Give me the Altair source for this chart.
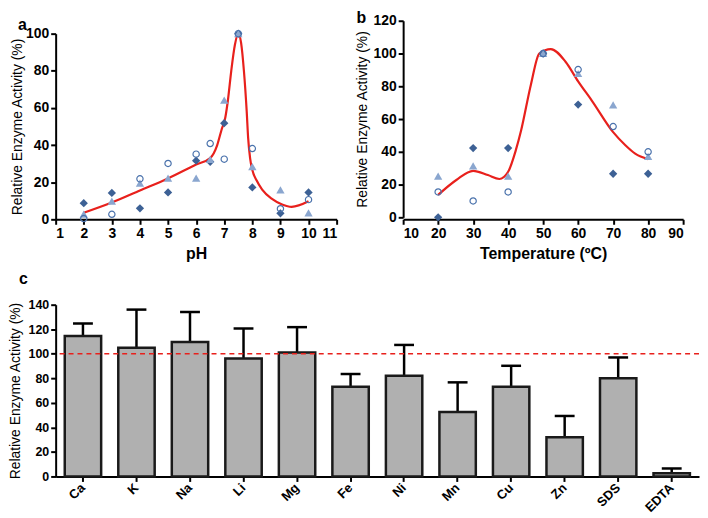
import altair as alt
import pandas as pd

FONT = "Liberation Sans"

# ---------------- Panel a : pH ----------------
ph = [2, 3, 4, 5, 6, 6.5, 7, 7.5, 8, 9, 10]
a_diamond = [8.7, 14.2, 5.9, 14.5, 31.6, 31.0, 51.8, 100, 17.2, 3.2, 14.5]
a_triangle = [2.8, 9.8, 19.5, 22.2, 22.2, 32.3, 64.2, 100, 28.4, 15.9, 3.5]
a_circle = [0.4, 2.7, 21.8, 30.1, 35.1, 40.8, 32.4, 100, 38.1, 5.7, 10.6]
a_fit_x = [2, 3, 4, 5, 6, 6.5, 6.75, 6.9, 7.04, 7.13, 7.25, 7.38, 7.5, 7.6, 7.7, 7.8, 7.85, 7.92, 8.0, 8.15, 8.35, 8.7, 9.06, 9.4, 10]
a_fit_y = [3.5, 9, 15.5, 22, 29.5, 33, 40, 48, 55, 64, 80, 94, 100, 95, 80, 58, 44, 33, 26.5, 21, 16, 11, 8, 6.7, 9.7]

# ---------------- Panel b : temperature ----------------
temp = [20, 30, 40, 50, 60, 70, 80]
b_diamond = [0, 42.3, 42.3, 100, 68.8, 26.6, 26.6]
b_triangle = [25.2, 31.4, 25.2, 100, 87.8, 68.7, 37.2]
b_circle = [15.5, 10, 15.5, 100, 90.2, 55.4, 40]
b_fit_x = [20, 25.2, 30, 34.2, 37.5, 40, 42.2, 43.7, 46.5, 48.9, 52.2, 56.4, 60, 64, 70, 73.5, 76.3, 80]
b_fit_y = [13.7, 22.8, 28.4, 25.8, 23.4, 27.8, 41, 53, 81, 100, 102.7, 95, 83, 71, 52, 44, 38.9, 35.5]

# ---------------- Panel c : ions ----------------
ions = ["Ca", "K", "Na", "Li", "Mg", "Fe", "Ni", "Mn", "Cu", "Zn", "SDS", "EDTA"]
means = [114.4, 105, 109.6, 96.1, 101, 73.2, 82.1, 52.5, 73.2, 32, 80, 2.7]
sds = [10.3, 31, 24.4, 24.5, 20.7, 10.3, 25.1, 24.2, 17, 17.3, 17, 3.8]

DIAMOND = "#3d6195"
TRIANGLE = "#8aa6cf"
CIRCLE = "#4a72ac"
RED = "#e8201c"

axis_base = dict(
    domainColor="black", domainWidth=2, tickColor="black", tickWidth=2, tickSize=5,
    labelFont=FONT, labelFontWeight="bold", labelFontSize=14, labelColor="black",
    titleFont=FONT, titleColor="black", grid=False, labelPadding=2,
)


def scatter_panel(xs, d, t, c, fit_x, fit_y, xdom, xticks, xtitle, ydom, yticks, yrange, width, height,
                  letter, letter_dx, ytitle_pad):
    pts = pd.DataFrame({"x": xs, "diamond": d, "triangle": t, "circle": c})
    fit = pd.DataFrame({"x": fit_x, "y": fit_y})
    xenc = alt.X("x:Q", scale=alt.Scale(domain=xdom, nice=False, zero=False),
                 axis=alt.Axis(values=xticks, title=xtitle, titleFontSize=16,
                               titleFontWeight="bold", titlePadding=5, **axis_base))
    yscale = alt.Scale(domain=ydom, nice=False, range=yrange)
    yaxis = alt.Axis(values=yticks, title="Relative Enzyme Activity (%)", titleFontSize=14,
                     titleFontWeight="normal", titlePadding=ytitle_pad, **axis_base)
    line = alt.Chart(fit).mark_line(color=RED, strokeWidth=2.2, interpolate="monotone").encode(
        x=xenc, y=alt.Y("y:Q", scale=yscale, axis=yaxis))
    dia = alt.Chart(pts).mark_point(shape="diamond", filled=True, color=DIAMOND, size=70, opacity=1).encode(
        x=xenc, y=alt.Y("diamond:Q", scale=yscale, axis=yaxis))
    tri = alt.Chart(pts).mark_point(shape="triangle-up", filled=True, color=TRIANGLE, size=70, opacity=1).encode(
        x=xenc, y=alt.Y("triangle:Q", scale=yscale, axis=yaxis))
    cir = alt.Chart(pts).mark_point(shape="circle", filled=False, stroke=CIRCLE, strokeWidth=1.2, size=40, opacity=1).encode(
        x=xenc, y=alt.Y("circle:Q", scale=yscale, axis=yaxis))
    return alt.layer(line, dia, tri, cir).properties(
        width=width, height=height,
        title=alt.TitleParams(letter, anchor="start", frame="group", dx=letter_dx, fontSize=16,
                              fontWeight="bold", font=FONT, color="black", offset=-12),
    )


pa = scatter_panel(ph, a_diamond, a_triangle, a_circle, a_fit_x, a_fit_y, [1, 11], list(range(1, 12)), "pH",
                   [0, 100], [0, 20, 40, 60, 80, 100], [200, 13], 283, 200, "a", -38, 1)
pb = scatter_panel(temp, b_diamond, b_triangle, b_circle, b_fit_x, b_fit_y, [10, 90], list(range(10, 91, 10)),
                   "Temperature (\u00baC)", [0, 120], [0, 20, 40, 60, 80, 100, 120], [198, 0], 282, 200, "b", -47, 4)

cdf = pd.DataFrame({"ion": ions, "mean": means, "sd": sds})
cdf["upper"] = cdf["mean"] + cdf["sd"]
ref = pd.DataFrame({"ref": [100]})

cx = alt.X("ion:N", sort=ions, scale=alt.Scale(paddingInner=0.32, paddingOuter=0.17),
           axis=alt.Axis(title=None, labelAngle=-45, labelAlign="right", labelBaseline="middle",
                         **{**axis_base, "labelFontSize": 13, "labelPadding": 4}))
cys = alt.Scale(domain=[0, 140], nice=False)
cya = alt.Axis(values=list(range(0, 141, 20)), title="Relative Enzyme Activity (%)", titleFontSize=14,
               titleFontWeight="normal", titlePadding=6, **{**axis_base, "labelFontSize": 12.5})

err = alt.Chart(cdf).mark_rule(color="black", strokeWidth=2.5).encode(
    x=cx, y=alt.Y("mean:Q", scale=cys, axis=cya), y2="upper:Q")
cap = alt.Chart(cdf).mark_tick(orient="horizontal", size=20, thickness=2.5, color="black", opacity=1).encode(
    x=cx, y=alt.Y("upper:Q", scale=cys, axis=cya))
bars = alt.Chart(cdf).mark_bar(fill="#b0b0b0", stroke="#1a1a1a", strokeWidth=2.5).encode(
    x=cx, y=alt.Y("mean:Q", scale=cys, axis=cya))
dash = alt.Chart(ref).mark_rule(color=RED, strokeDash=[5, 4], strokeWidth=1.5).encode(
    y=alt.Y("ref:Q", scale=cys, axis=cya))

pc = alt.layer(err, cap, bars, dash).properties(
    width=648, height=173,
    title=alt.TitleParams("c", anchor="start", frame="group", dx=-37, fontSize=16,
                          fontWeight="bold", font=FONT, color="black", offset=12),
)

chart = alt.vconcat(
    alt.hconcat(pa, pb, spacing=17),
    pc,
    spacing=10,
).properties(padding=0).configure_view(stroke=None)

chart.save("out.html", embed_options={"renderer": "svg", "actions": False})
